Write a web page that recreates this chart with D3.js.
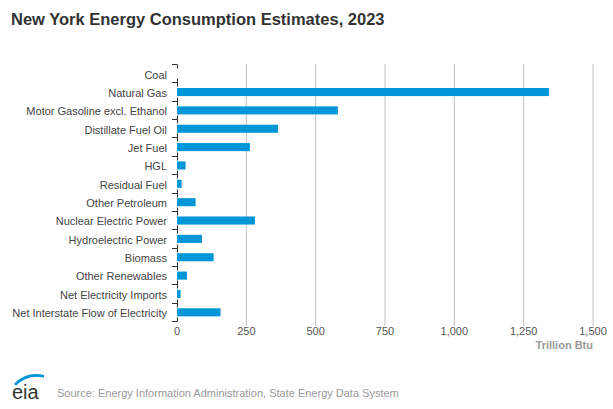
<!DOCTYPE html>
<html>
<head>
<meta charset="utf-8">
<script src="https://cdn.jsdelivr.net/npm/d3@7"></script>
<style>
  body { margin: 0; background: #fff; font-family: "Liberation Sans", Arial, sans-serif; }
</style>
</head>
<body>
<div id="chart"></div>
<script>
const CATEGORIES = [
  'Coal', 'Natural Gas', 'Motor Gasoline excl. Ethanol', 'Distillate Fuel Oil',
  'Jet Fuel', 'HGL', 'Residual Fuel', 'Other Petroleum', 'Nuclear Electric Power',
  'Hydroelectric Power', 'Biomass', 'Other Renewables', 'Net Electricity Imports',
  'Net Interstate Flow of Electricity'
];
const VALUES = [0.3, 1341, 580, 364, 263, 31, 17, 67, 281, 90, 132, 36, 13, 157];
const X_TICKS = [0, 250, 500, 750, 1000, 1250, 1500];

const W = 613, H = 409;
const margin = { top: 64, right: 20, bottom: 88, left: 177 };
const width = 593 - margin.left;
const height = 321 - margin.top;

const svg = d3.select('#chart')
  .append('svg')
  .attr('width', W)
  .attr('height', H);

// Title
svg.append('text')
  .attr('x', 11).attr('y', 25)
  .attr('font-size', 16.5).attr('font-weight', 'bold')
  .attr('fill', '#333')
  .text('New York Energy Consumption Estimates, 2023');

const g = svg.append('g')
  .attr('transform', 'translate(' + margin.left + ',' + margin.top + ')');

const x = d3.scaleLinear().domain([0, 1500]).range([0, width]);
const y = d3.scaleBand().domain(CATEGORIES).range([0, height]).paddingInner(0.56).paddingOuter(0.28);

// Grid lines
g.selectAll('.grid')
  .data(X_TICKS.slice(1))
  .enter()
  .append('line')
  .attr('x1', d => x(d)).attr('x2', d => x(d))
  .attr('y1', 0).attr('y2', height + 5)
  .attr('stroke', '#c0c0c0').attr('stroke-width', 1);

// Bars
g.selectAll('.bar')
  .data(VALUES)
  .enter()
  .append('rect')
  .attr('x', 0)
  .attr('y', (d, i) => y(CATEGORIES[i]) + 0.5)
  .attr('width', d => x(d))
  .attr('height', y.bandwidth())
  .attr('fill', '#0096d7');

// Y axis: ticks at band boundaries
const step = y.step();
const bounds = d3.range(CATEGORIES.length + 1).map(i => i * step);
bounds.forEach((b, i) => {
  const by = Math.round(b) + 0.5;
  g.append('line')
    .attr('x1', -5).attr('x2', 0)
    .attr('y1', by).attr('y2', by)
    .attr('stroke', '#333').attr('stroke-width', 1);
  g.append('line')
    .attr('x1', 0.5).attr('x2', 0.5)
    .attr('y1', i === 0 ? by : by - 4)
    .attr('y2', i === CATEGORIES.length ? by : by + 4)
    .attr('stroke', '#333').attr('stroke-width', 1);
});

// Category labels
g.selectAll('.cat')
  .data(CATEGORIES)
  .enter()
  .append('text')
  .attr('x', -10)
  .attr('y', d => y(d) + y.bandwidth() / 2 + 1.5)
  .attr('dy', '0.35em')
  .attr('text-anchor', 'end')
  .attr('font-size', 11)
  .attr('fill', '#444')
  .text(d => d);

// X axis labels
g.selectAll('.xt')
  .data(X_TICKS)
  .enter()
  .append('text')
  .attr('x', d => x(d))
  .attr('y', height + 14)
  .attr('text-anchor', 'middle')
  .attr('font-size', 11)
  .attr('fill', '#555')
  .text(d3.format(','));

g.append('text')
  .attr('x', width).attr('y', height + 28)
  .attr('text-anchor', 'end')
  .attr('font-size', 11).attr('font-weight', 'bold')
  .attr('fill', '#999')
  .text('Trillion Btu');

// eia logo
const logo = svg.append('g').attr('transform', 'translate(12,372)');
logo.append('path')
  .attr('d', 'M2,12 Q14,-1 32,3 L32,5.5 Q16,2 4,13.5 Z')
  .attr('fill', '#0096d7');
logo.append('text')
  .attr('x', 0).attr('y', 27)
  .attr('font-size', 20)
  .attr('fill', '#333')
  .text('eia');

svg.append('text')
  .attr('x', 57).attr('y', 397)
  .attr('font-size', 11)
  .attr('fill', '#999')
  .text('Source: Energy Information Administration, State Energy Data System');
</script>
</body>
</html>
